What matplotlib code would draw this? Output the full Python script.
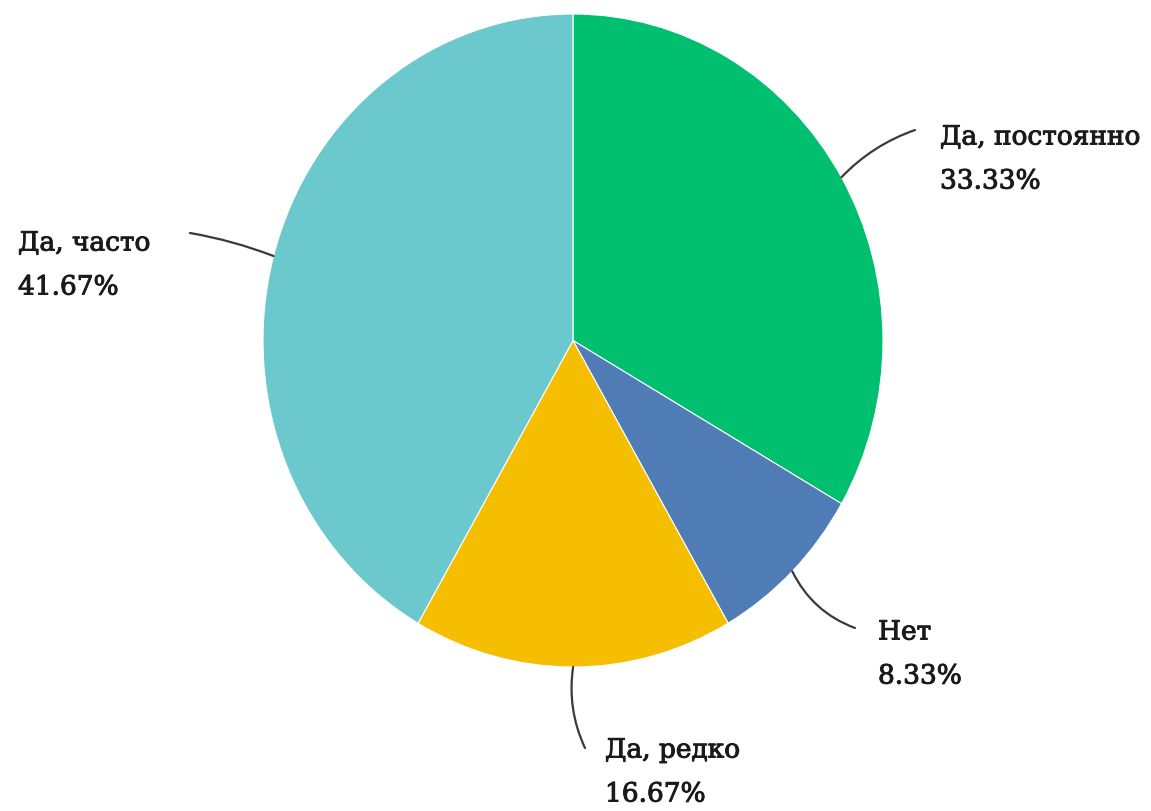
import numpy as np
import matplotlib
matplotlib.use("Agg")
import matplotlib.pyplot as plt
import matplotlib.patheffects as pe

# Survey answers, drawn clockwise from 12 o'clock
categories = ["Да, постоянно", "Нет", "Да, редко", "Да, часто"]
shares = [33.33, 8.33, 16.67, 41.67]
colors = ["#00BF6F", "#507CB6", "#F6BE00", "#6BC8CD"]

W, H = 1151, 811
fig = plt.figure(figsize=(W / 100, H / 100), dpi=100)

# pie bounding box in pixels (slightly taller than wide)
left, top, right, bottom = 263, 14, 883, 667
ax = fig.add_axes([left / W, 1 - bottom / H, (right - left) / W, (bottom - top) / H])
wedges, _ = ax.pie(shares, colors=colors, startangle=90, counterclock=False,
                   radius=1.0, wedgeprops=dict(edgecolor="white", linewidth=0.8))
ax.set_aspect("auto")
ax.set_xlim(-1, 1)
ax.set_ylim(-1, 1)
ax.axis("off")

# overlay axes in pixel coordinates for labels
ov = fig.add_axes([0, 0, 1, 1], facecolor="none")
ov.set_xlim(0, W)
ov.set_ylim(H, 0)
ov.axis("off")

# leader end point, text anchor, alignment, curvature per slice
label_layout = [
    dict(end=(915, 130), text=(940, 137), ha="left", rad=0.12),
    dict(end=(855, 628), text=(878, 632), ha="left", rad=-0.2),
    dict(end=(585, 748), text=(605, 750), ha="left", rad=-0.15),
    dict(end=(190, 233), text=(18, 243), ha="left", rad=-0.05),
]

heavier = [pe.withStroke(linewidth=0.7, foreground="#1a1a1a")]

cx, cy = (left + right) / 2, (top + bottom) / 2
rx, ry = (right - left) / 2, (bottom - top) / 2
for w, name, val, lay in zip(wedges, categories, shares, label_layout):
    mid = np.deg2rad((w.theta1 + w.theta2) / 2)
    px, py = cx + rx * np.cos(mid), cy - ry * np.sin(mid)
    ov.annotate("", xy=(px, py), xytext=lay["end"], xycoords="data",
                arrowprops=dict(arrowstyle="-", color="#3a3a3a", lw=1.6,
                                connectionstyle=f"arc3,rad={lay['rad']}",
                                shrinkA=0, shrinkB=0))
    tx, ty = lay["text"]
    ov.text(tx, ty, name, ha=lay["ha"], va="center", fontsize=19,
            family="DejaVu Serif", color="#1a1a1a", path_effects=heavier)
    ov.text(tx, ty + 44, f"{val:.2f}%", ha=lay["ha"], va="center", fontsize=19,
            family="DejaVu Serif", color="#1a1a1a", path_effects=heavier)

fig.savefig("out.png", dpi=100, facecolor="white")
